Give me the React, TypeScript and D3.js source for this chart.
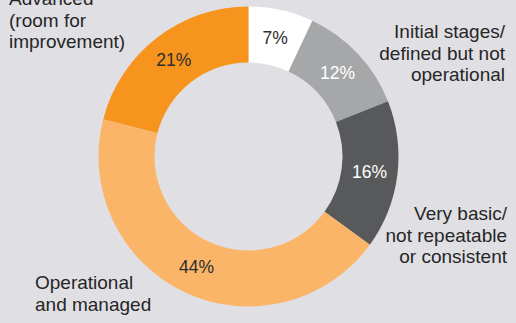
import React from "react";
import * as d3 from "d3";

const categories = [
  "Leading",
  "Initial stages/defined but not operational",
  "Very basic/not repeatable or consistent",
  "Operational and managed",
  "Advanced (room for improvement)",
];
const values = [7, 12, 16, 44, 21];
const colors = ["#ffffff", "#a6a7a9", "#58595b", "#fbb568", "#f7941d"];
const valueTextColors = ["#2d2d2d", "#ffffff", "#ffffff", "#2d2d2d", "#2d2d2d"];

const labelLines: { lines: string[]; x: number; y: number; anchor: string }[] = [
  { lines: ["Advanced", "(room for", "improvement)"], x: 9, y: 5, anchor: "start" },
  { lines: ["Initial stages/", "defined but not", "operational"], x: 505, y: 38, anchor: "end" },
  { lines: ["Very basic/", "not repeatable", "or consistent"], x: 507, y: 220, anchor: "end" },
  { lines: ["Operational", "and managed"], x: 35, y: 289, anchor: "start" },
];

const W = 516;
const H = 323;
const cx = 248.5;
const cy = 156.5;
const outerR = 150;
const innerR = 94;
const font = "'Liberation Sans', Arial, Helvetica, sans-serif";

export default function App() {
  const pie = d3.pie<number>().sort(null).value((d) => d);
  const arcs = pie(values);
  const arcGen = d3.arc<d3.PieArcDatum<number>>().innerRadius(innerR).outerRadius(outerR);
  const labelArc = d3
    .arc<d3.PieArcDatum<number>>()
    .innerRadius((innerR + outerR) / 2)
    .outerRadius((innerR + outerR) / 2);

  return (
    <svg
      width={W}
      height={H}
      style={{ position: "absolute", left: 0, top: 0, background: "#e0e0e4" }}
    >
      <rect x={0} y={0} width={W} height={H} fill="#e0e0e4" />
      <g transform={`translate(${cx},${cy})`}>
        {arcs.map((a, i) => (
          <path key={i} d={arcGen(a) || ""} fill={colors[i]} />
        ))}
        {arcs.map((a, i) => {
          const [x, y] = labelArc.centroid(a);
          return (
            <text
              key={"t" + i}
              x={x}
              y={y}
              dy="0.35em"
              textAnchor="middle"
              fontFamily={font}
              fontSize={17.5}
              fill={valueTextColors[i]}
            >
              {values[i]}%
            </text>
          );
        })}
      </g>
      {labelLines.map((l, i) => (
        <text
          key={"l" + i}
          x={l.x}
          y={l.y}
          textAnchor={l.anchor as any}
          fontFamily={font}
          fontSize={19}
          fill="#262626"
        >
          {l.lines.map((s, j) => (
            <tspan key={j} x={l.x} y={l.y + j * 21.7}>
              {s}
            </tspan>
          ))}
        </text>
      ))}
    </svg>
  );
}
